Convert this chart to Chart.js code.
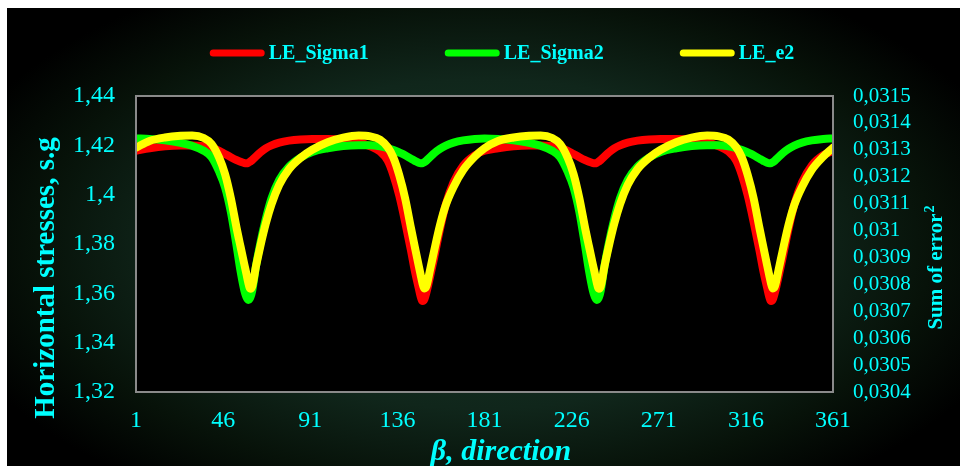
<!DOCTYPE html>
<html>
<head>
<meta charset="utf-8">
<title>Horizontal stresses vs direction</title>
<script src="https://cdn.jsdelivr.net/npm/chart.js@4.4.1/dist/chart.umd.min.js"></script>
<style>
  html, body { margin: 0; padding: 0; background: #ffffff; }
  #wrap { position: relative; width: 960px; height: 466px; }
</style>
</head>
<body>
<div id="wrap"><canvas id="myChart" width="960" height="466"></canvas></div>
<script>
// direction angle, degrees
var beta = [
  1, 8, 16, 24, 30, 36, 40, 44, 47, 50, 53, 55, 57, 58, 59, 60, 61, 63, 65, 68, 71, 75, 80, 86, 92,
  100, 108, 116, 122, 127, 131, 134, 137, 140, 143, 145, 147, 148, 149, 150, 151, 153, 155, 158, 161,
  165, 170, 176, 181,
  188, 196, 204, 210, 216, 220, 224, 227, 230, 233, 235, 237, 238, 239, 240, 241, 243, 245, 248, 251,
  255, 260, 266, 272, 280, 288, 296, 302, 307, 311, 314, 317, 320, 323, 325, 327, 328, 329, 330, 331,
  333, 335, 338, 341, 345, 350, 356, 361
];

// horizontal stresses, s.g (left axis)
var sigma1 = [
  1.4178, 1.4188, 1.4196, 1.4199, 1.4199, 1.4196, 1.4190, 1.4178, 1.4165, 1.4152, 1.4140, 1.4133, 1.4128,
  1.4127, 1.4129, 1.4134, 1.4140, 1.4155, 1.4170, 1.4188, 1.4200, 1.4211, 1.4219, 1.4224, 1.4226,
  1.4226, 1.4222, 1.4212, 1.4196, 1.4175, 1.4138, 1.4078, 1.3995, 1.3890, 1.3775, 1.3692, 1.3622,
  1.3588, 1.3569, 1.3577, 1.3603, 1.3672, 1.3745, 1.3860, 1.3960, 1.4050, 1.4118, 1.4160, 1.4178,
  1.4188, 1.4196, 1.4199, 1.4199, 1.4196, 1.4190, 1.4178, 1.4165, 1.4152, 1.4140, 1.4133, 1.4128,
  1.4127, 1.4129, 1.4134, 1.4140, 1.4155, 1.4170, 1.4188, 1.4200, 1.4211, 1.4219, 1.4224, 1.4226,
  1.4226, 1.4222, 1.4212, 1.4196, 1.4175, 1.4138, 1.4078, 1.3995, 1.3890, 1.3775, 1.3692, 1.3622,
  1.3588, 1.3569, 1.3577, 1.3603, 1.3672, 1.3745, 1.3860, 1.3960, 1.4050, 1.4118, 1.4160, 1.4177
];

var sigma2 = [
  1.4228, 1.4226, 1.4220, 1.4210, 1.4198, 1.4178, 1.4152, 1.4092, 1.4030, 1.3930, 1.3790, 1.3690, 1.3610,
  1.3585, 1.3573, 1.3582, 1.3610, 1.3712, 1.3795, 1.3900, 1.3985, 1.4060, 1.4113, 1.4150, 1.4173,
  1.4188, 1.4197, 1.4200, 1.4200, 1.4196, 1.4189, 1.4181, 1.4171, 1.4160, 1.4146, 1.4137, 1.4129,
  1.4127, 1.4128, 1.4132, 1.4138, 1.4153, 1.4168, 1.4186, 1.4199, 1.4211, 1.4220, 1.4226, 1.4228,
  1.4226, 1.4220, 1.4210, 1.4198, 1.4178, 1.4152, 1.4092, 1.4030, 1.3930, 1.3790, 1.3690, 1.3610,
  1.3585, 1.3573, 1.3582, 1.3610, 1.3712, 1.3795, 1.3900, 1.3985, 1.4060, 1.4113, 1.4150, 1.4173,
  1.4188, 1.4197, 1.4200, 1.4200, 1.4196, 1.4189, 1.4181, 1.4171, 1.4160, 1.4146, 1.4137, 1.4129,
  1.4127, 1.4128, 1.4132, 1.4138, 1.4153, 1.4168, 1.4186, 1.4199, 1.4211, 1.4220, 1.4226, 1.4228
];

// sum of error^2 (right axis)
var e2 = [
  0.031308, 0.031333, 0.031346, 0.031352, 0.031353, 0.031344, 0.031322, 0.031270, 0.031210, 0.031120,
  0.031008, 0.030940, 0.030873, 0.030840, 0.030806, 0.030784, 0.030792, 0.030868, 0.030935, 0.031025,
  0.031098, 0.031170, 0.031228, 0.031270, 0.031300, 0.031328, 0.031345, 0.031353, 0.031350, 0.031338,
  0.031310, 0.031270, 0.031205, 0.031120, 0.031010, 0.030940, 0.030870, 0.030836, 0.030803, 0.030785,
  0.030793, 0.030858, 0.030925, 0.031020, 0.031095, 0.031162, 0.031225, 0.031275, 0.031306,
  0.031333, 0.031346, 0.031352, 0.031353, 0.031344, 0.031322, 0.031270, 0.031210, 0.031120,
  0.031008, 0.030940, 0.030873, 0.030840, 0.030806, 0.030784, 0.030792, 0.030868, 0.030935, 0.031025,
  0.031098, 0.031170, 0.031228, 0.031270, 0.031300, 0.031328, 0.031345, 0.031353, 0.031350, 0.031338,
  0.031310, 0.031270, 0.031205, 0.031120, 0.031010, 0.030940, 0.030870, 0.030836, 0.030803, 0.030785,
  0.030793, 0.030858, 0.030925, 0.031020, 0.031095, 0.031162, 0.031225, 0.031275, 0.031308
];

var seriesNames = ['LE_Sigma1', 'LE_Sigma2', 'LE_e2'];
var seriesColors = ['#ff0000', '#00ff00', '#ffff00'];

var xTicks = [1, 46, 91, 136, 181, 226, 271, 316, 361];
var leftTicks = [1.32, 1.34, 1.36, 1.38, 1.40, 1.42, 1.44];
var rightTicks = [0.0304, 0.0305, 0.0306, 0.0307, 0.0308, 0.0309, 0.031, 0.0311, 0.0312, 0.0313, 0.0314, 0.0315];

var CYAN = '#00ffff';
var SERIF = '"Liberation Serif", "Times New Roman", serif';

// decimal comma, trailing zeros dropped (1,4 / 0,031)
function fmt(v) {
  return String(parseFloat(v.toFixed(4))).replace('.', ',');
}

function points(ys) {
  return beta.map(function (b, i) { return { x: b, y: ys[i] }; });
}

function setTicks(list) {
  return function (scale) {
    scale.ticks = list.map(function (v) { return { value: v }; });
  };
}

// dark backdrop with green glow, black plot area
var backdrop = {
  id: 'backdrop',
  beforeDraw: function (chart) {
    var ctx = chart.ctx, a = chart.chartArea;
    ctx.save();
    ctx.fillStyle = '#ffffff';
    ctx.fillRect(0, 0, chart.width, chart.height);
    ctx.beginPath();
    ctx.rect(7, 8, chart.width - 7, chart.height - 8);
    ctx.clip();
    ctx.fillStyle = '#000000';
    ctx.fillRect(0, 0, chart.width, chart.height);
    ctx.translate(484, 244);
    ctx.scale(560, 300);
    var g = ctx.createRadialGradient(0, 0, 0, 0, 0, 1);
    g.addColorStop(0, '#173a29');
    g.addColorStop(0.55, '#10261b');
    g.addColorStop(0.8, '#071209');
    g.addColorStop(1, '#000000');
    ctx.fillStyle = g;
    ctx.fillRect(-2, -2, 4, 4);
    ctx.restore();
    ctx.fillStyle = '#000000';
    ctx.fillRect(a.left, a.top, a.right - a.left, a.bottom - a.top);
  },
  afterDraw: function (chart) {
    var ctx = chart.ctx, a = chart.chartArea;
    ctx.save();
    // plot border
    ctx.strokeStyle = '#8a8a8a';
    ctx.lineWidth = 2;
    ctx.strokeRect(a.left, a.top, a.right - a.left, a.bottom - a.top);

    // legend
    ctx.font = 'bold 20px ' + SERIF;
    var mark = 55, gap = 4, space = 76;
    var ds = chart.data.datasets;
    var total = 0;
    ds.forEach(function (d, i) {
      total += mark + gap + ctx.measureText(d.label).width + (i < ds.length - 1 ? space : 0);
    });
    var x = 502 - total / 2, y = 53;
    ctx.textBaseline = 'middle';
    ctx.textAlign = 'left';
    ctx.lineCap = 'round';
    ds.forEach(function (d) {
      ctx.strokeStyle = d.borderColor;
      ctx.lineWidth = 7;
      ctx.beginPath();
      ctx.moveTo(x + 3.5, y);
      ctx.lineTo(x + mark - 3.5, y);
      ctx.stroke();
      ctx.fillStyle = CYAN;
      ctx.fillText(d.label, x + mark + gap, y + 1);
      x += mark + gap + ctx.measureText(d.label).width + space;
    });

    ctx.fillStyle = CYAN;
    ctx.textBaseline = 'alphabetic';
    ctx.textAlign = 'center';

    // x axis title
    ctx.font = 'italic bold 30px ' + SERIF;
    ctx.fillText('\u03b2, direction', 501, 460);

    // left axis title
    ctx.save();
    ctx.translate(54, 278);
    ctx.rotate(-Math.PI / 2);
    ctx.font = 'bold 29px ' + SERIF;
    ctx.fillText('Horizontal stresses, s.g', 0, 0);
    ctx.restore();

    // right axis title with superscript
    ctx.save();
    ctx.translate(942, 268);
    ctx.rotate(-Math.PI / 2);
    ctx.textAlign = 'left';
    ctx.font = 'bold 21px ' + SERIF;
    var main = 'Sum of error';
    var w1 = ctx.measureText(main).width;
    ctx.font = 'bold 14px ' + SERIF;
    var w2 = ctx.measureText('2').width;
    var sx = -(w1 + w2) / 2;
    ctx.font = 'bold 21px ' + SERIF;
    ctx.fillText(main, sx, 0);
    ctx.font = 'bold 14px ' + SERIF;
    ctx.fillText('2', sx + w1 + 1, -8);
    ctx.restore();

    ctx.restore();
  }
};

var ctx = document.getElementById('myChart').getContext('2d');

var myChart = new Chart(ctx, {
  type: 'line',
  data: {
    datasets: [
      { label: seriesNames[0], data: points(sigma1), yAxisID: 'y', borderColor: seriesColors[0], backgroundColor: seriesColors[0], order: 3 },
      { label: seriesNames[1], data: points(sigma2), yAxisID: 'y', borderColor: seriesColors[1], backgroundColor: seriesColors[1], order: 2 },
      { label: seriesNames[2], data: points(e2), yAxisID: 'y1', borderColor: seriesColors[2], backgroundColor: seriesColors[2], order: 1 }
    ]
  },
  options: {
    responsive: false,
    animation: false,
    events: [],
    layout: { padding: { top: 96, left: 0, right: 0, bottom: 0 } },
    elements: {
      line: { borderWidth: 8, cubicInterpolationMode: 'monotone', borderCapStyle: 'round', borderJoinStyle: 'round', fill: false },
      point: { radius: 0 }
    },
    plugins: {
      legend: { display: false },
      tooltip: { enabled: false }
    },
    scales: {
      x: {
        type: 'linear',
        min: 1,
        max: 361,
        afterBuildTicks: setTicks(xTicks),
        afterFit: function (s) { s.height = 74; },
        grid: { display: false, drawTicks: false },
        border: { display: false },
        ticks: { color: CYAN, font: { family: SERIF, size: 24 }, padding: 14, maxRotation: 0, autoSkip: false }
      },
      y: {
        position: 'left',
        min: 1.32,
        max: 1.44,
        afterBuildTicks: setTicks(leftTicks),
        afterFit: function (s) { s.width = 136; },
        grid: { display: false, drawTicks: false },
        border: { display: false },
        ticks: { color: CYAN, font: { family: SERIF, size: 24 }, padding: 21, autoSkip: false, callback: fmt }
      },
      y1: {
        position: 'right',
        min: 0.0304,
        max: 0.0315,
        afterBuildTicks: setTicks(rightTicks),
        afterFit: function (s) { s.width = 127; },
        grid: { display: false, drawTicks: false },
        border: { display: false },
        ticks: { color: CYAN, font: { family: SERIF, size: 21 }, padding: 20, autoSkip: false, callback: fmt }
      }
    }
  },
  plugins: [backdrop]
});
</script>
</body>
</html>
